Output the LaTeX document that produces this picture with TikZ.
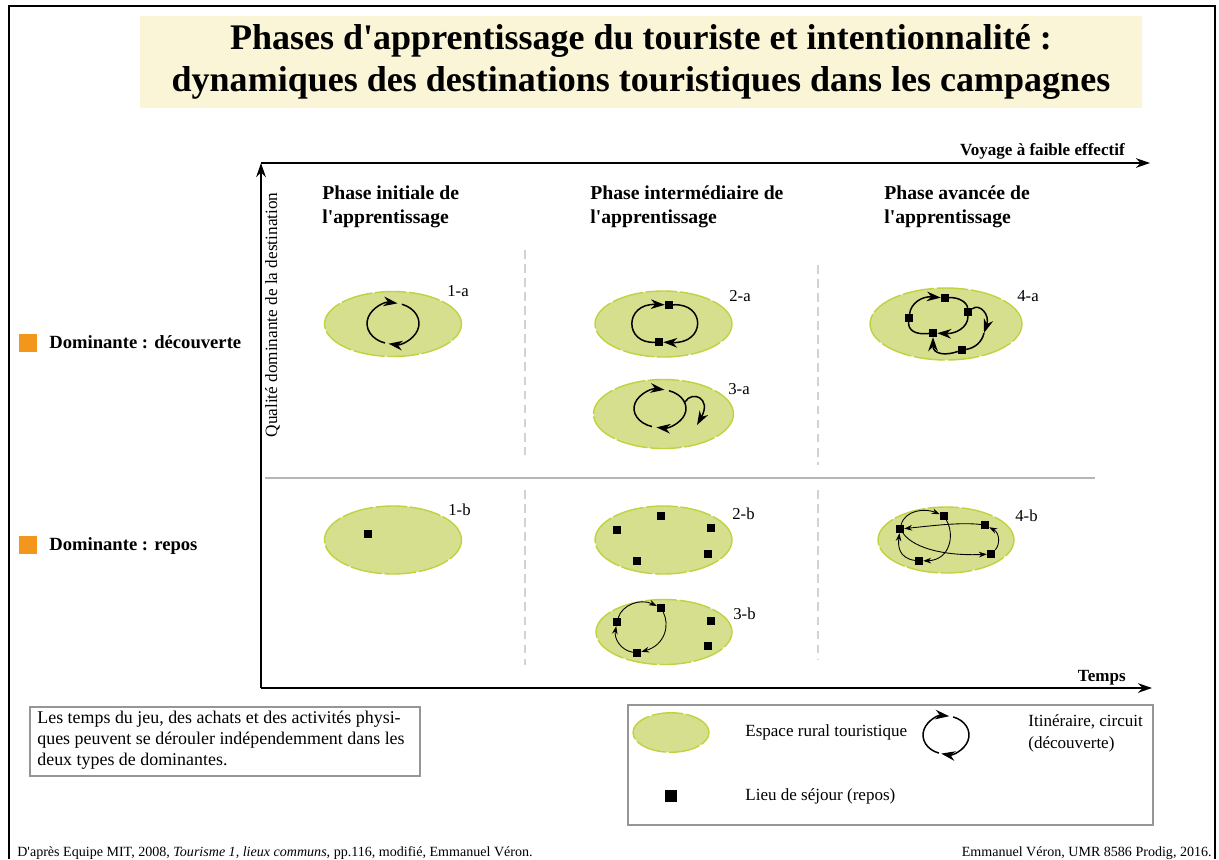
\documentclass[tikz,border=0pt]{standalone}
\usepackage{fontspec}
\setmainfont{Liberation Serif}[Ligatures=TeXOff]
\usetikzlibrary{arrows.meta, positioning, shapes.geometric, calc}

\definecolor{espacefond}{RGB}{214,223,142}
\definecolor{espacebord}{RGB}{192,210,62}
\definecolor{titrefond}{RGB}{250,245,215}
\definecolor{domorange}{RGB}{243,150,28}
\definecolor{gristrait}{RGB}{150,150,150}
\definecolor{grisclair}{RGB}{210,210,210}

\tikzset{
  espace/.style={ellipse, fill=espacefond, draw=espacebord, line width=0.8pt,
                 dash pattern=on 18pt off 1.5pt, inner sep=0pt},
  sejour/.style={rectangle, fill=black, minimum size=4.4pt, inner sep=0pt},
  circuit/.style={line width=0.85pt, -{Stealth[length=8pt, width=5.5pt]}},
  boucle/.style={line width=0.85pt},
  trajet/.style={line width=0.5pt, -{Stealth[length=4.5pt, width=3.2pt]}},
  repere/.style={line width=0.8pt, -{Stealth[length=8pt, width=5.5pt]}},
  rang/.style={font=\bfseries\fontsize{10.6}{13}\selectfont, anchor=mid west, inner sep=0pt},
  phase/.style={font=\bfseries\fontsize{11.2}{14.2}\selectfont, anchor=north west, align=left, inner sep=0pt},
  etiq/.style={font=\fontsize{9.5}{11}\selectfont, anchor=mid west, inner sep=0pt},
  legende/.style={font=\fontsize{9.7}{12.4}\selectfont, anchor=mid west, inner sep=0pt},
  source/.style={font=\fontsize{8}{10}\selectfont, inner sep=0pt},
}

\begin{document}
\begin{tikzpicture}[x=0.02cm, y=-0.02cm]
  \useasboundingbox (0,0) rectangle (1219,859);

  % Cadre
  \draw[line width=0.8pt] (9,859) -- (9,6) -- (1215,6) -- (1215,859);

  % Titre
  \fill[titrefond] (140,16) rectangle (1142,108);
  \node[font=\bfseries\fontsize{20.5}{24}\selectfont, align=center, inner sep=0pt] (titre) at (641,62)
    {Phases d'apprentissage du touriste et intentionnalité :\\
     dynamiques des destinations touristiques dans les campagnes};

  % Axes
  \coordinate (O) at (261,688);
  \coordinate (coin) at (261,163);
  \coordinate (xhaut) at (1150,163);
  \coordinate (xbas) at (1152,688);
  \draw[repere] (O) -- (coin);
  \draw[repere] (coin) -- (xhaut);
  \draw[repere] (O) -- (xbas);
  \node[font=\bfseries\fontsize{9.7}{12}\selectfont, anchor=mid east, inner sep=0pt] (voyage) at (1125,151) {Voyage à faible effectif};
  \node[font=\bfseries\fontsize{9.7}{12}\selectfont, anchor=mid east, inner sep=0pt] (temps) at (1126,677) {Temps};
  \node[font=\fontsize{9.8}{12}\selectfont, rotate=90, anchor=mid, inner sep=0pt] (qualite) at (273,315) {Qualité dominante de la destination};

  % Separations
  \draw[gristrait!70, line width=0.6pt] (265,478) -- (1095,478);
  \draw[grisclair, line width=1.3pt, dash pattern=on 5pt off 3pt] (525,250) -- (525,455);
  \draw[grisclair, line width=1.3pt, dash pattern=on 5pt off 3pt] (525,490) -- (525,665);
  \draw[grisclair, line width=1.3pt, dash pattern=on 5pt off 3pt] (818,265) -- (818,465);
  \draw[grisclair, line width=1.3pt, dash pattern=on 5pt off 3pt] (818,490) -- (818,660);

  % Phases
  \node[phase] (ph1) at (322,185) {Phase initiale de\\l'apprentissage};
  \node[phase] (ph2) at (590,185) {Phase intermédiaire de\\l'apprentissage};
  \node[phase] (ph3) at (884,185) {Phase avancée de\\l'apprentissage};

  % Dominantes
  \node[fill=domorange, minimum size=10.2pt, inner sep=0pt] (cdec) at (28,343) {};
  \node[rang] (dec) at (49,344) {Dominante : découverte};
  \node[fill=domorange, minimum size=10.2pt, inner sep=0pt] (crep) at (28,545) {};
  \node[rang] (rep) at (49,546) {Dominante : repos};

  % 1-a
  \node[espace, minimum width=2.74cm, minimum height=1.3cm] (e1a) at (393,324) {};
  \node[etiq] (l1a) at (447,292) {1-a};
  \draw[circuit] ([shift={(108:26 and 20.5)}]393,323.5) arc[start angle=108, end angle=280, x radius=26, y radius=20.5];
  \draw[circuit] ([shift={(290:26 and 20.5)}]393,323.5) arc[start angle=290, end angle=460, x radius=26, y radius=20.5];

  % 2-a
  \node[espace, minimum width=2.74cm, minimum height=1.32cm] (e2a) at (663.5,324) {};
  \node[etiq] (l2a) at (729,297) {2-a};
  \node[sejour] (s2a1) at (669,305) {};
  \node[sejour] (s2a2) at (659,342) {};
  \draw[circuit] (s2a2) .. controls (624,344) and (624,303) .. (s2a1);
  \draw[circuit] (s2a1) .. controls (706,303) and (706,344) .. (s2a2);

  % 3-a
  \node[espace, minimum width=2.8cm, minimum height=1.38cm] (e3a) at (663.5,414) {};
  \node[etiq] (l3a) at (728,390) {3-a};
  \draw[circuit] ([shift={(108:26 and 19)}]660,408.5) arc[start angle=108, end angle=280, x radius=26, y radius=19];
  \draw[circuit] ([shift={(290:26 and 19)}]660,408.5) arc[start angle=290, end angle=458, x radius=26, y radius=19];
  \coordinate (d3a) at (685,402);
  \coordinate (f3a) at (697,425);
  \draw[circuit] (d3a) .. controls (692,390) and (712,398) .. (f3a);

  % 4-a
  \node[espace, minimum width=3.04cm, minimum height=1.44cm] (e4a) at (946,324) {};
  \node[etiq] (l4a) at (1017,297) {4-a};
  \node[sejour] (s4a1) at (945,298) {};
  \node[sejour] (s4a2) at (909,318) {};
  \node[sejour] (s4a3) at (968,312) {};
  \node[sejour] (s4a4) at (933,333) {};
  \node[sejour] (s4a5) at (962,350) {};
  \coordinate (k4a) at (984,333);
  \draw[circuit] (s4a2) .. controls (911,303) and (922,296) .. (s4a1);
  \draw[boucle] (s4a1) .. controls (958,297) and (967,302) .. (s4a3);
  \draw[circuit] (s4a3) .. controls (968,328) and (955,334) .. (s4a4);
  \draw[boucle] (s4a4) .. controls (915,335) and (908,330) .. (s4a2);
  \draw[circuit] (s4a3) .. controls (980,303) and (990,315) .. (k4a);
  \draw[boucle] (k4a) .. controls (982,342) and (975,348) .. (s4a5);
  \draw[circuit] (s4a5) .. controls (945,356) and (933,354) .. (s4a4);

  % 1-b
  \node[espace, minimum width=2.74cm, minimum height=1.36cm] (e1b) at (393,540) {};
  \node[etiq] (l1b) at (448,511) {1-b};
  \node[sejour] (s1b1) at (368,534) {};

  % 2-b
  \node[espace, minimum width=2.74cm, minimum height=1.36cm] (e2b) at (663.5,540) {};
  \node[etiq] (l2b) at (732,515) {2-b};
  \node[sejour] (s2b1) at (661,516) {};
  \node[sejour] (s2b2) at (617,530) {};
  \node[sejour] (s2b3) at (711,528) {};
  \node[sejour] (s2b4) at (708,554) {};
  \node[sejour] (s2b5) at (637,561) {};

  % 3-b
  \node[espace, minimum width=2.72cm, minimum height=1.3cm] (e3b) at (664,632) {};
  \node[etiq] (l3b) at (733,615) {3-b};
  \node[sejour] (s3b1) at (661,608) {};
  \node[sejour] (s3b2) at (617,622) {};
  \node[sejour] (s3b3) at (637,653) {};
  \node[sejour] (s3b4) at (711,621) {};
  \node[sejour] (s3b5) at (708,646) {};
  \draw[trajet] (s3b2) .. controls (622,605) and (640,598) .. (s3b1);
  \draw[trajet] (s3b1) .. controls (670,625) and (665,645) .. (s3b3);
  \draw[trajet] (s3b3) .. controls (620,650) and (614,638) .. (s3b2);

  % 4-b
  \node[espace, minimum width=2.72cm, minimum height=1.32cm] (e4b) at (946,540) {};
  \node[etiq] (l4b) at (1015,517) {4-b};
  \node[sejour] (s4b1) at (900,529) {};
  \node[sejour] (s4b2) at (944,516) {};
  \node[sejour] (s4b3) at (985,525) {};
  \node[sejour] (s4b4) at (991,554) {};
  \node[sejour] (s4b5) at (919,561) {};
  \draw[trajet] (s4b1) .. controls (905,510) and (925,508) .. (s4b2);
  \draw[trajet] (s4b2) .. controls (955,535) and (950,560) .. (s4b5);
  \draw[trajet] (s4b5) .. controls (898,558) and (898,545) .. (s4b1);
  \draw[trajet] (s4b3) .. controls (960,522) and (930,526) .. (s4b1);
  \draw[trajet] (s4b1) .. controls (915,550) and (950,556) .. (s4b4);
  \draw[trajet] (s4b4) .. controls (1000,545) and (1000,533) .. (s4b3);

  % Note
  \draw[gristrait, line width=0.6pt] (30,707) rectangle (420,776);
  \node[font=\fontsize{10.2}{12}\selectfont, align=left, anchor=north west, inner sep=0pt] (note) at (37,711)
    {Les temps du jeu, des achats et des activités physi-\\
     ques peuvent se dérouler indépendemment dans les\\
     deux types de dominantes.};

  % Legende
  \draw[gristrait, line width=0.6pt] (628,705) rectangle (1153,825);
  \node[espace, minimum width=1.52cm, minimum height=0.79cm] (lgesp) at (671,732.5) {};
  \node[legende] (tesp) at (745,732) {Espace rural touristique};
  \draw[circuit] ([shift={(108:23 and 19)}]946,735) arc[start angle=108, end angle=278, x radius=23, y radius=19];
  \draw[circuit] ([shift={(288:23 and 19)}]946,735) arc[start angle=288, end angle=462, x radius=23, y radius=19];
  \node[legende, anchor=north west, align=left] (titi) at (1028,714) {Itinéraire, circuit\\(découverte)};
  \node[sejour, minimum size=6.8pt] (lgsej) at (671,796) {};
  \node[legende] (tsej) at (745,796) {Lieu de séjour (repos)};

  % Sources
  \node[source, anchor=mid west] (src1) at (17,852) {D'après Equipe MIT, 2008, \textit{Tourisme 1, lieux communs}, pp.116, modifié, Emmanuel Véron.};
  \node[source, anchor=mid east] (src2) at (1212,852) {Emmanuel Véron, UMR 8586 Prodig, 2016.};
\end{tikzpicture}
\end{document}
